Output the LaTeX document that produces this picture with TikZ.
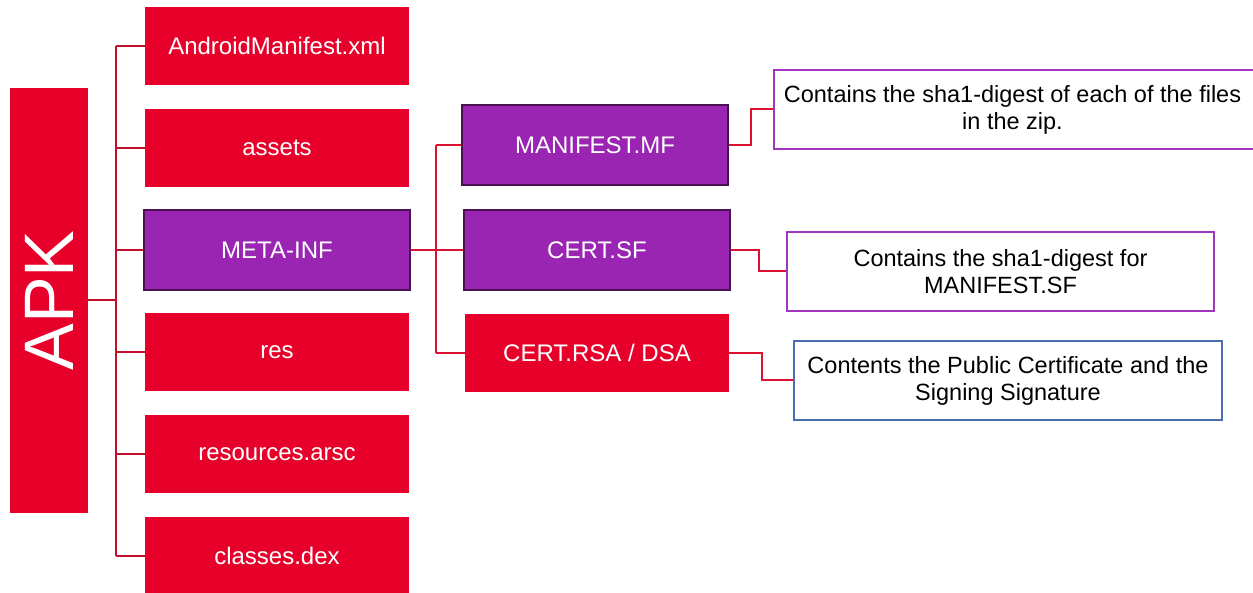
\documentclass[tikz,border=0pt]{standalone}
\usepackage{fontspec}
\setmainfont{Liberation Sans}
\definecolor{boxred}{HTML}{E6002A}
\definecolor{boxpurple}{HTML}{9B25B3}
\definecolor{darkpurple}{HTML}{4A1250}
\definecolor{linered}{HTML}{C20F2C}
\definecolor{linered2}{HTML}{DC1030}
\definecolor{notepurple}{HTML}{A035C0}
\definecolor{noteblue}{HTML}{4A6EB0}
\tikzset{
  item/.style={fill=boxred, text=white, inner sep=0pt, minimum width=264pt, minimum height=78pt,
    font=\fontsize{24}{28}\selectfont},
  pitem/.style={fill=boxpurple, draw=darkpurple, line width=2pt, text=white, inner sep=0pt,
    minimum width=266pt, minimum height=80pt, font=\fontsize{24}{28}\selectfont},
  note/.style={draw=notepurple, line width=2pt, fill=white, text=black, inner sep=0pt, align=center,
    font=\fontsize{23.5}{27}\selectfont},
  notetext/.style={text=black, inner sep=0pt, align=center, font=\fontsize{23.5}{27}\selectfont},
  bus/.style={draw=linered, line width=2pt},
  link/.style={draw=linered2, line width=2pt},
}
\begin{document}
\begin{tikzpicture}[x=1pt,y=-1pt]
\useasboundingbox (0,0) rectangle (1253,593);
% root
\node[fill=boxred, inner sep=0pt, minimum width=78pt, minimum height=425pt] (apk) at (49,300.5) {};
\node[text=white, rotate=90, font=\fontsize{70}{80}\selectfont] (apklabel) at (apk.center) {APK};
% top-level entries
\node[item] (am) at (277,46) {AndroidManifest.xml};
\node[item] (assets) at (277,148) {assets};
\node[pitem] (meta) at (277,250) {META-INF};
\node[item] (res) at (277,352) {res};
\node[item] (arsc) at (277,454) {resources.arsc};
\node[item] (dex) at (277,556) {classes.dex};
% META-INF entries
\node[pitem] (mf) at (595,145.5) {MANIFEST.MF};
\node[pitem] (sf) at (597,250) {CERT.SF};
\node[item] (rsa) at (597,353) {CERT.RSA / DSA};
% descriptions (the first box runs past the right edge)
\node[note, minimum width=490pt, minimum height=79pt] (d1) at (1019,109.5) {};
\node[notetext] (d1text) at (1012.5,109.5)
  {Contains the sha1-digest of each of the files\\in the zip.};
\node[note, minimum width=427pt, minimum height=79pt] (d2) at (1000.5,271.5)
  {Contains the sha1-digest for\\MANIFEST.SF};
\node[note, draw=noteblue, minimum width=428pt, minimum height=79pt] (d3) at (1008,380.5)
  {Contents the Public Certificate and the\\Signing Signature};
% first-level tree
\coordinate (busA) at (116,0);
\draw[bus] (apk.east) -- (apk.east -| busA);
\draw[bus] (am.west -| busA) -- (dex.west -| busA);
\foreach \n in {am,assets,meta,res,arsc,dex}
  \draw[bus] (\n.west) -- (\n.west -| busA);
% META-INF tree
\coordinate (busB) at (436,0);
\draw[link] (meta.east) -- (meta.east -| busB);
\draw[link] (mf.west -| busB) -- (rsa.west -| busB);
\foreach \n in {mf,sf,rsa}
  \draw[link] (\n.west) -- (\n.west -| busB);
% descriptions
\draw[link] (mf.east) -- ++(22,0) |- (d1.west);
\draw[link] (sf.east) -- ++(28,0) |- (d2.west);
\draw[link] (rsa.east) -- ++(33,0) |- (d3.west);
\end{tikzpicture}
\end{document}
